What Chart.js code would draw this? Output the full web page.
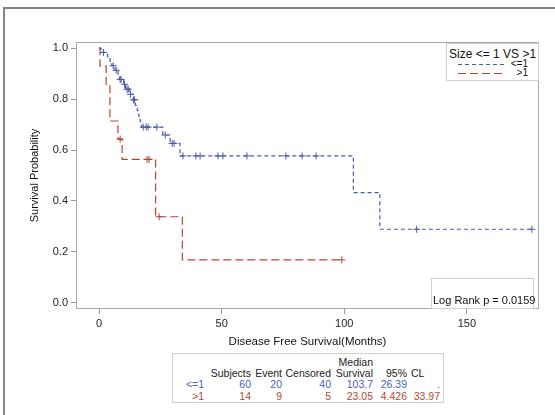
<!DOCTYPE html>
<html>
<head>
<meta charset="utf-8">
<script src="https://cdn.jsdelivr.net/npm/chart.js@4"></script>
<style>
  body { margin: 0; background: #fff; font-family: "Liberation Sans", Arial, sans-serif; }
  #wrap { position: relative; width: 555px; height: 415px; overflow: hidden; }
  #outer { position: absolute; left: 3px; top: 7px; width: 600px; height: 500px;
           border-left: 2px solid #858585; border-top: 2px solid #858585; }
  canvas { position: absolute; left: 0; top: 0; }
  .box { position: absolute; background: #fff; border: 1px solid #cfcfcf; color: #111; }
  .t { position: absolute; white-space: nowrap; font-size: 10.5px; line-height: 12px; }
  .r { text-align: right; }
</style>
</head>
<body>
<div id="wrap">
  <div id="outer"></div>
  <canvas id="km" width="555" height="415"></canvas>

  <div class="box" style="left:446px; top:43px; width:91px; height:36px;">
    <div class="t" style="left:2px; top:3px; font-size:12px; line-height:14px;">Size &lt;= 1 VS &gt;1</div>
    <svg style="position:absolute; left:11px; top:15px;" width="50" height="20">
      <line x1="0" y1="5.5" x2="47" y2="5.5" stroke="#4a5ba5" stroke-width="1.2" stroke-dasharray="4,3"/>
      <line x1="0" y1="14.5" x2="47" y2="14.5" stroke="#b5442f" stroke-width="1.2" stroke-dasharray="8,4"/>
    </svg>
    <div class="t r" style="right:10px; top:14px; font-size:10px; line-height:11px;">&lt;=1</div>
    <div class="t r" style="right:10px; top:23px; font-size:10px; line-height:11px;">&gt;1</div>
  </div>

  <div class="box" style="left:431px; top:278px; width:101px; height:29px;">
    <div class="t" style="left:1px; top:15px; font-size:11px;">Log Rank p = 0.0159</div>
  </div>

  <div class="box" id="stats" style="left:172px; top:353px; width:270px; height:48px;"></div>
</div>

<script>
const xTicks = [0, 50, 100, 150];
const yTicks = [0, 0.2, 0.4, 0.6, 0.8, 1.0];

// Size <= 1 : KM step points (months, survival)
const smallTimes = [0, 0.8, 3.5, 4.5, 5.2, 6.5, 7.8, 8.3, 10.0, 10.8, 12.3, 13.8,
                    14.8, 15.6, 16.2, 16.8, 17.4, 26.0, 29.0, 33.0, 103.7, 114.5, 176.5];
const smallSurv  = [1, 0.983, 0.966, 0.948, 0.931, 0.913, 0.895, 0.877, 0.858, 0.839, 0.819, 0.797,
                    0.775, 0.755, 0.733, 0.711, 0.690, 0.659, 0.626, 0.577, 0.433, 0.289, 0.289];
const smallCensorT = [1.8, 5.8, 7.0, 8.6, 9.0, 10.4, 11.4, 11.9, 12.8, 14.1, 14.5,
                      18.0, 19.2, 20.0, 23.6, 27.0, 29.8, 30.6,
                      34.2, 39.5, 41.2, 48.5, 50.5, 60.3, 76.2, 82.8, 88.5, 129.5, 176.5];
const smallCensorS = [0.983, 0.931, 0.913, 0.877, 0.877, 0.858, 0.839, 0.839, 0.819, 0.797, 0.797,
                      0.690, 0.690, 0.690, 0.690, 0.659, 0.626, 0.626,
                      0.577, 0.577, 0.577, 0.577, 0.577, 0.577, 0.577, 0.577, 0.577, 0.289, 0.289];

// Size > 1
const largeTimes = [0, 0.4, 2.9, 4.43, 7.7, 9.4, 23.05, 33.97, 99];
const largeSurv  = [1, 0.929, 0.857, 0.714, 0.643, 0.563, 0.338, 0.169, 0.169];
const largeCensorT = [8.6, 19.6, 20.4, 24.5, 99];
const largeCensorS = [0.643, 0.563, 0.563, 0.338, 0.169];

// summary table
const groups    = ['<=1', '>1'];
const subjects  = [60, 14];
const events    = [20, 9];
const censored  = [40, 5];
const medians   = ['103.7', '23.05'];
const lowerCL   = ['26.39', '4.426'];
const upperCL   = ['.', '33.97'];

const blue = '#4a5ba5', red = '#b5442f';
const blueText = '#4f5fae', redText = '#b34a33';

const pts = (xs, ys) => xs.map((x, i) => ({x: x, y: ys[i]}));

const frame = {
  id: 'frame',
  beforeDatasetsDraw(chart) {
    const {ctx, chartArea: a} = chart;
    ctx.save();
    ctx.strokeStyle = '#a8a8a8';
    ctx.lineWidth = 1;
    ctx.strokeRect(a.left + 0.5, a.top + 0.5, a.width - 1, a.height - 1);
    ctx.restore();
  }
};

const tickFont = {family: '"Liberation Sans", Arial, sans-serif', size: 11};

new Chart(document.getElementById('km'), {
  type: 'line',
  data: {
    datasets: [
      {data: pts(smallTimes, smallSurv), stepped: true, borderColor: blue, borderWidth: 1.2,
       borderDash: [4, 3], pointRadius: 0, fill: false},
      {data: pts(smallCensorT, smallCensorS), showLine: false, pointStyle: 'cross',
       pointRadius: 3.5, borderColor: blue, borderWidth: 1, backgroundColor: blue},
      {data: pts(largeTimes, largeSurv), stepped: true, borderColor: red, borderWidth: 1.2,
       borderDash: [8, 4], pointRadius: 0, fill: false},
      {data: pts(largeCensorT, largeCensorS), showLine: false, pointStyle: 'cross',
       pointRadius: 3.5, borderColor: red, borderWidth: 1, backgroundColor: red}
    ]
  },
  options: {
    responsive: false,
    animation: false,
    devicePixelRatio: 1,
    layout: {padding: {left: 0, top: 42, right: 16, bottom: 61}},
    plugins: {legend: {display: false}, tooltip: {enabled: false}},
    scales: {
      x: {
        type: 'linear', min: -9.4, max: 179.4,
        afterBuildTicks: s => { s.ticks = xTicks.map(v => ({value: v})); },
        afterFit: s => { s.height = 45; },
        border: {display: false},
        grid: {drawOnChartArea: false, drawTicks: true, tickLength: 5, color: '#9a9a9a'},
        ticks: {font: tickFont, color: '#222', padding: 3, maxRotation: 0},
        title: {display: true, text: 'Disease Free Survival(Months)', color: '#111',
                font: {family: tickFont.family, size: 11.5, lineHeight: 1.2}, padding: {top: 0, bottom: 5}}
      },
      y: {
        type: 'linear', min: -0.024, max: 1.024,
        afterBuildTicks: s => { s.ticks = yTicks.map(v => ({value: v})); },
        afterFit: s => { s.width = 76; },
        border: {display: false},
        grid: {drawOnChartArea: false, drawTicks: true, tickLength: 5, color: '#9a9a9a'},
        ticks: {font: tickFont, color: '#222', padding: 3, callback: v => v.toFixed(1)},
        title: {display: true, text: 'Survival Probability', color: '#111',
                font: {family: tickFont.family, size: 11, lineHeight: 1.2}, padding: {top: 28, bottom: 0}}
      }
    }
  },
  plugins: [frame]
});

// summary table under the chart (positions relative to the box)
const stats = document.getElementById('stats');
const put = (text, right, top, color, align) => {
  const d = document.createElement('div');
  d.className = 't';
  d.textContent = text;
  d.style.top = top + 'px';
  d.style.color = color;
  if (align === 'left') d.style.left = right + 'px';
  else d.style.right = (270 - right) + 'px';
  stats.appendChild(d);
};
const hdr = '#222';
put('Median', 200, 2, hdr);
put('Subjects', 78, 13, hdr);
put('Event', 109, 13, hdr);
put('Censored', 158, 13, hdr);
put('Survival', 200, 13, hdr);
put('95%', 234, 13, hdr);
put('CL', 238, 13, hdr, 'left');
const rowColors = [blueText, redText];
groups.forEach((g, i) => {
  const top = 24 + i * 11.5;
  const c = rowColors[i];
  put(g, 31, top, c);
  put(String(subjects[i]), 78, top, c);
  put(String(events[i]), 109, top, c);
  put(String(censored[i]), 158, top, c);
  put(medians[i], 200, top, c);
  put(lowerCL[i], 234, top, c);
  put(upperCL[i], 267, top, c);
});
</script>
</body>
</html>
